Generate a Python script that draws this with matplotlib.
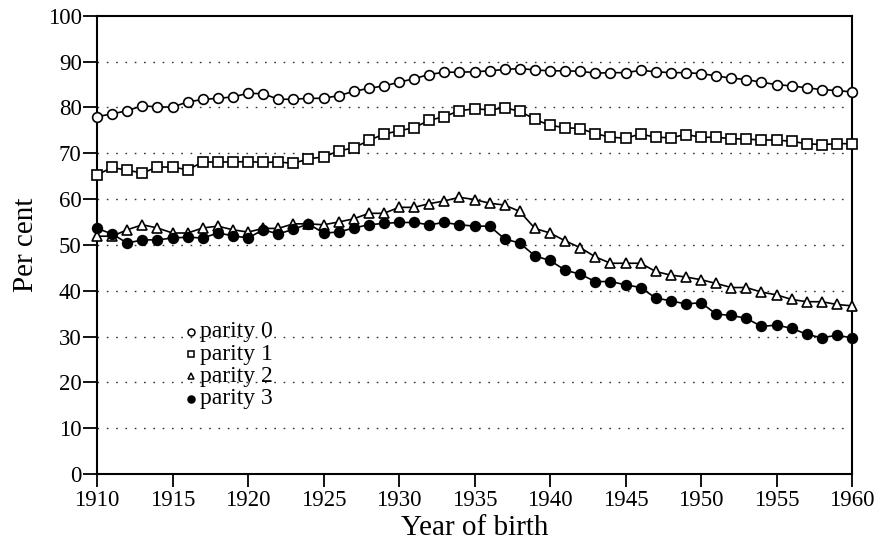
import matplotlib
matplotlib.use("Agg")
import matplotlib.pyplot as plt

years = list(range(1910, 1961))

parity0 = [78.0, 78.6, 79.3, 80.4, 80.1, 80.1, 81.2, 81.75, 82.0, 82.3,
           83.1, 83.0, 81.8, 81.8, 82.0, 82.0, 82.6, 83.5, 84.2, 84.7,
           85.5, 86.3, 87.2, 87.7, 87.7, 87.8, 88.0, 88.3, 88.5, 88.2,
           88.0, 88.0, 87.9, 87.5, 87.6, 87.6, 88.1, 87.8, 87.6, 87.6,
           87.4, 86.9, 86.4, 86.1, 85.5, 85.0, 84.7, 84.3, 83.9, 83.7,
           83.4]

parity1 = [65.3, 66.9, 66.3, 65.7, 67.0, 67.0, 66.4, 68.1, 68.1, 68.1,
           68.2, 68.0, 68.1, 67.8, 68.8, 69.2, 70.5, 71.2, 72.8, 74.2,
           74.9, 75.6, 77.2, 78.0, 79.3, 79.7, 79.5, 79.9, 79.2, 77.4,
           76.1, 75.6, 75.4, 74.3, 73.5, 73.3, 74.2, 73.5, 73.4, 74.1,
           73.5, 73.5, 73.2, 73.1, 72.9, 72.9, 72.6, 72.1, 71.9, 72.1,
           72.1]

parity2 = [51.9, 51.9, 53.3, 54.4, 53.7, 52.6, 52.6, 53.7, 54.1, 53.3,
           52.8, 53.6, 53.6, 54.6, 54.6, 54.4, 55.0, 55.7, 56.9, 56.9,
           58.2, 58.2, 59.0, 59.6, 60.4, 59.9, 59.1, 58.7, 57.3, 53.6,
           52.6, 50.9, 49.4, 47.4, 46.0, 46.0, 46.0, 44.2, 43.4, 43.0,
           42.4, 41.6, 40.7, 40.7, 39.7, 39.1, 38.1, 37.6, 37.6, 37.0,
           36.7]

parity3 = [53.6, 52.4, 50.4, 51.1, 51.1, 51.5, 51.7, 51.5, 52.6, 52.0,
           51.5, 53.3, 52.4, 53.4, 54.6, 52.6, 52.8, 53.7, 54.4, 54.7,
           54.9, 54.9, 54.4, 54.9, 54.4, 54.1, 54.1, 51.3, 50.4, 47.6,
           46.6, 44.5, 43.6, 42.0, 42.0, 41.3, 40.7, 38.4, 37.8, 37.1,
           37.4, 34.9, 34.6, 34.0, 32.2, 32.5, 31.8, 30.5, 29.7, 30.3,
           29.7]

labels = ["parity 0", "parity 1", "parity 2", "parity 3"]
x_ticks = list(range(1910, 1961, 5))
y_ticks = list(range(0, 101, 10))

plt.rcParams['font.family'] = ['Liberation Serif', 'DejaVu Serif']

fig = plt.figure(figsize=(8.82, 5.47), dpi=100)
ax = fig.add_axes([0.110, 0.1335, 0.856, 0.8375])

ms = 7.0
mew = 1.2
styles = [
    dict(marker='o', mfc='white', mec='black', ms=ms),
    dict(marker='s', mfc='white', mec='black', ms=ms - 0.3),
    dict(marker='^', mfc='white', mec='black', ms=ms + 0.5),
    dict(marker='o', mfc='black', mec='black', ms=ms),
]
series = [parity0, parity1, parity2, parity3]

for ys, st in zip(series, styles):
    ax.plot(years, ys, color='black', lw=1.2, mew=mew, clip_on=False, zorder=3, **st)

for v in y_ticks[1:-1]:
    ax.axhline(v, color='#333333', lw=1.0, ls=(0, (1.2, 5.5)), zorder=1)

ax.set_xlim(1910, 1960)
ax.set_ylim(0, 100)
ax.set_xticks(x_ticks)
ax.set_yticks(y_ticks)
ax.tick_params(axis='both', direction='out', labelsize=16.5, width=1.3, color='black')
ax.tick_params(axis='y', length=10, pad=1)
ax.tick_params(axis='x', length=9.5, pad=2)
for sp in ax.spines.values():
    sp.set_linewidth(1.5)

ax.set_xlabel("Year of birth", fontsize=21, labelpad=3)
ax.set_ylabel("Per cent", fontsize=21, labelpad=6)

# legend drawn as marker + text rows (no frame)
leg_x_marker = 0.125
leg_x_text = 0.137
leg_y0 = 0.310
leg_dy = 0.0485
for i, (lab, st) in enumerate(zip(labels, styles)):
    yy = leg_y0 - i * leg_dy
    ax.plot([leg_x_marker], [yy], transform=ax.transAxes, linestyle='none',
            marker=st['marker'], mfc=st['mfc'], mec=st['mec'], ms=5.0, mew=1.1,
            clip_on=False, zorder=4)
    ax.text(leg_x_text, yy, lab, transform=ax.transAxes, fontsize=17,
            va='center', ha='left', zorder=4)

fig.savefig("out.png", dpi=100)
